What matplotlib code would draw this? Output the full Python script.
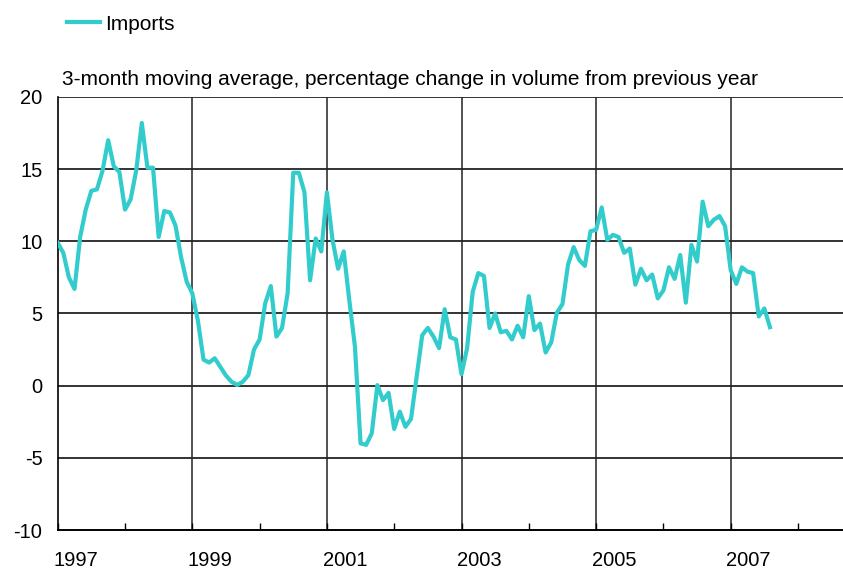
import matplotlib
matplotlib.use("Agg")
import matplotlib.pyplot as plt
from matplotlib.transforms import ScaledTranslation
import numpy as np

# Monthly imports, 3-month moving average, % change y/y (Jan 1997 - Aug 2007)
start_year = 1997
imports = [
    9.9, 9.2, 7.5, 6.7, 10.3, 12.2, 13.5, 13.6, 14.9, 17.0, 15.2, 14.8,      # 1997
    12.2, 12.9, 14.9, 18.2, 15.1, 15.1, 10.3, 12.1, 12.0, 11.1, 8.9, 7.2,    # 1998
    6.4, 4.5, 1.8, 1.6, 1.9, 1.3, 0.7, 0.27, 0.05, 0.27, 0.73, 2.5,          # 1999
    3.2, 5.7, 6.9, 3.4, 4.0, 6.4, 14.75, 14.75, 13.4, 7.3, 10.2, 9.3,        # 2000
    13.4, 10.1, 8.1, 9.3, 5.9, 2.7, -4.0, -4.1, -3.3, 0.04, -1.0, -0.5,      # 2001
    -3.0, -1.8, -2.85, -2.3, 0.6, 3.5, 4.0, 3.4, 2.6, 5.3, 3.35, 3.2,        # 2002
    0.8, 2.6, 6.5, 7.8, 7.6, 4.0, 5.0, 3.7, 3.8, 3.2, 4.15, 3.35,            # 2003
    6.2, 3.85, 4.3, 2.3, 3.0, 5.05, 5.65, 8.4, 9.6, 8.7, 8.3, 10.7,          # 2004
    10.8, 12.35, 10.1, 10.45, 10.3, 9.2, 9.5, 7.0, 8.1, 7.3, 7.7, 6.05,      # 2005
    6.6, 8.2, 7.4, 9.05, 5.75, 9.75, 8.6, 12.75, 11.05, 11.5, 11.75, 11.05,  # 2006
    8.0, 7.05, 8.2, 7.9, 7.8, 4.8, 5.35, 4.05,                               # 2007
]
series_label = "Imports"
title_text = "3-month moving average, percentage change in volume from previous year"
year_labels = [1997, 1999, 2001, 2003, 2005, 2007]
y_ticks = [-10, -5, 0, 5, 10, 15, 20]

plt.rcParams['font.family'] = ['Liberation Sans', 'DejaVu Sans']

W, H = 843, 571
fig = plt.figure(figsize=(W / 100, H / 100), dpi=100)
ax = fig.add_axes([57.7 / W, 1 - 530 / H, 1 - 57.7 / W, (530 - 97) / H])

months = start_year + np.arange(len(imports)) / 12.0
line, = ax.plot(months, imports, color='#33CCCC', lw=3.0, solid_joinstyle='round',
                label=series_label, zorder=3)

ax.set_xlim(1997, 1997 + (W - 57.7) / 67.3)
ax.set_ylim(-10, 20)
ax.set_yticks(y_ticks)
ax.set_yticklabels([str(v) for v in y_ticks], fontsize=14.5)
ax.set_xticks(year_labels)
ax.set_xticklabels([str(y) for y in year_labels], fontsize=14.5)
ax.set_xticks(range(1998, 2009, 2), minor=True)

ax.tick_params(axis='y', length=0, pad=11)
ax.tick_params(axis='x', which='both', direction='in', length=5, width=1, pad=15)

# shift year labels right of their tick
offset = ScaledTranslation(18 / 100, 0, fig.dpi_scale_trans)
for lab in ax.get_xticklabels():
    lab.set_transform(lab.get_transform() + offset)

for v in y_ticks[1:]:
    ax.axhline(v, color='#333333', lw=1.4, zorder=1)
for yr in year_labels[1:]:
    ax.axvline(yr, color='#222222', lw=1.1, zorder=1)

for s in ['top', 'right']:
    ax.spines[s].set_visible(False)
ax.spines['left'].set_linewidth(1.2)
ax.spines['bottom'].set_linewidth(1.4)

fig.text(62 / W, 1 - 85 / H, title_text, fontsize=15, va='baseline', ha='left')

fig.legend(handles=[line], loc='center left', bbox_to_anchor=(67 / W, 1 - 24 / H),
           frameon=False, fontsize=15, handlelength=1.6, handletextpad=0.25,
           borderpad=0, borderaxespad=0)

fig.savefig('out.png', dpi=100)
